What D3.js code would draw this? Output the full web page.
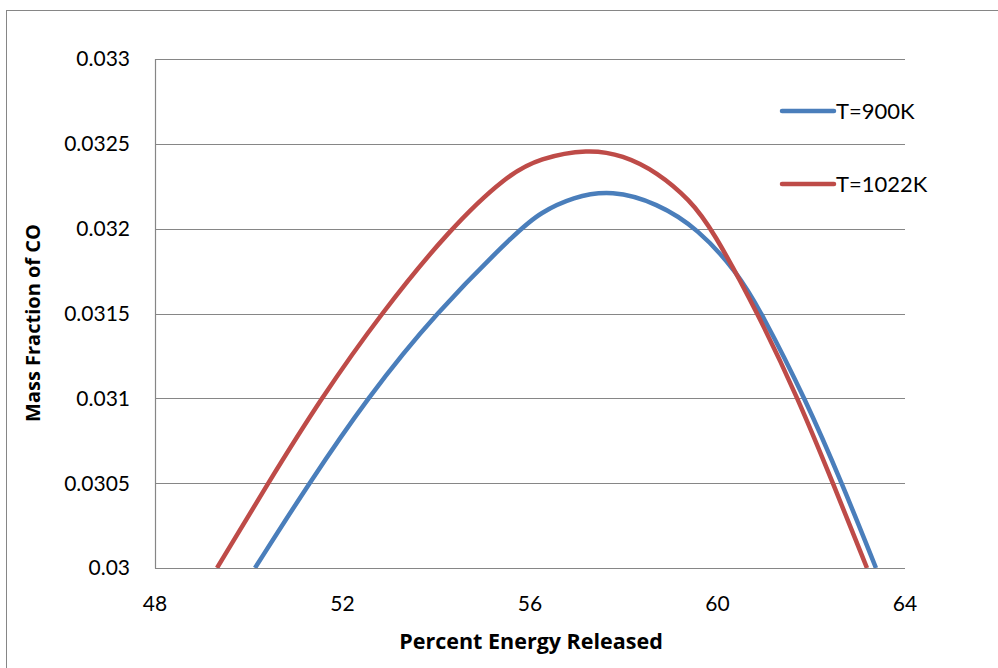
<!DOCTYPE html>
<html>
<head>
<meta charset="utf-8">
<script src="https://cdn.jsdelivr.net/npm/d3@7"></script>
<style>
  html, body { margin: 0; padding: 0; background: #fff; }
  svg { display: block; }
  text { font-family: Lato, "Open Sans", sans-serif; fill: #000; }
  .title { font-family: "Open Sans", Lato, sans-serif; font-weight: bold; }
</style>
</head>
<body>
<svg id="chart" width="998" height="668"></svg>
<script>
// ---- data ----
const xTicks = [48, 52, 56, 60, 64];
const yTicks = [0.03, 0.0305, 0.031, 0.0315, 0.032, 0.0325, 0.033];
const yTickLabels = ["0.03", "0.0305", "0.031", "0.0315", "0.032", "0.0325", "0.033"];
const seriesNames = ["T=900K", "T=1022K"];
const seriesColors = ["#4a7ebb", "#be4b48"];

const blueX = [50.133, 51.285, 52.523, 53.973, 55.787, 56.213, 56.917, 57.749, 58.709, 59.584, 60.416, 60.949, 61.867, 62.656, 63.381];
const blueY = [0.030000, 0.030500, 0.031000, 0.031500, 0.032000, 0.032092, 0.032187, 0.032228, 0.032151, 0.032000, 0.031745, 0.031500, 0.031000, 0.030500, 0.030000];

const redX = [49.323, 50.411, 51.541, 52.821, 54.293, 55.509, 56.213, 57.237, 57.984, 58.709, 59.413, 59.883, 60.864, 61.717, 62.464, 63.189];
const redY = [0.030000, 0.030500, 0.031000, 0.031500, 0.032000, 0.032316, 0.032416, 0.032470, 0.032434, 0.032334, 0.032169, 0.032000, 0.031500, 0.031000, 0.030500, 0.030000];

// ---- layout ----
const svg = d3.select("#chart");
const plot = { left: 155, right: 905, top: 59, bottom: 568 };

const x = d3.scaleLinear().domain([48, 64]).range([plot.left, plot.right]);
const y = d3.scaleLinear().domain([0.03, 0.033]).range([plot.bottom, plot.top]);

// outer chart border
svg.append("rect")
  .attr("x", 6.5).attr("y", 10.5)
  .attr("width", 1100).attr("height", 800)
  .attr("fill", "none").attr("stroke", "#868686").attr("stroke-width", 1);

// horizontal gridlines
svg.append("g").selectAll("line").data(yTicks).join("line")
  .attr("x1", plot.left).attr("x2", plot.right)
  .attr("y1", d => Math.round(y(d)) + 0.5).attr("y2", d => Math.round(y(d)) + 0.5)
  .attr("stroke", "#868686").attr("stroke-width", 1.2);

// y axis line
svg.append("line")
  .attr("x1", plot.left + 0.5).attr("x2", plot.left + 0.5)
  .attr("y1", plot.top).attr("y2", plot.bottom + 0.5)
  .attr("stroke", "#868686").attr("stroke-width", 1.2);

// y tick labels
svg.append("g").selectAll("text").data(yTicks).join("text")
  .attr("x", 130).attr("y", d => y(d))
  .attr("dy", "0.35em")
  .attr("text-anchor", "end")
  .style("font-size", "21px")
  .text((d, i) => yTickLabels[i]);

// x tick labels
svg.append("g").selectAll("text").data(xTicks).join("text")
  .attr("x", d => x(d)).attr("y", 604)
  .attr("dy", "0.35em")
  .attr("text-anchor", "middle")
  .style("font-size", "21px")
  .text(d => d);

// axis titles
svg.append("text").attr("class", "title")
  .attr("x", 531).attr("y", 641)
  .attr("dy", "0.35em")
  .attr("text-anchor", "middle")
  .style("font-size", "21.5px")
  .text("Percent Energy Released");

svg.append("text").attr("class", "title")
  .attr("transform", "translate(33,323) rotate(-90)")
  .attr("dy", "0.35em")
  .attr("text-anchor", "middle")
  .style("font-size", "20px")
  .text("Mass Fraction of CO");

// clip
svg.append("clipPath").attr("id", "clip")
  .append("rect").attr("x", plot.left).attr("y", plot.top - 10)
  .attr("width", plot.right - plot.left).attr("height", plot.bottom - plot.top + 10);

const line = d3.line()
  .x(d => x(d[0])).y(d => y(d[1]))
  .curve(d3.curveBasis);

const series = [
  blueX.map((v, i) => [v, blueY[i]]),
  redX.map((v, i) => [v, redY[i]])
];

svg.append("g").attr("clip-path", "url(#clip)")
  .selectAll("path").data(series).join("path")
  .attr("d", line)
  .attr("fill", "none")
  .attr("stroke", (d, i) => seriesColors[i])
  .attr("stroke-width", 4.5)
  .attr("stroke-linejoin", "round");

// legend
const legendY = [111, 184];
const lg = svg.append("g");
seriesNames.forEach((name, i) => {
  lg.append("line")
    .attr("x1", 782).attr("x2", 834)
    .attr("y1", legendY[i]).attr("y2", legendY[i])
    .attr("stroke", seriesColors[i]).attr("stroke-width", 4.5)
    .attr("stroke-linecap", "round");
  lg.append("text")
    .attr("x", 836).attr("y", legendY[i])
    .attr("dy", "0.35em")
    .style("font-size", "22px")
    .text(name);
});
</script>
</body>
</html>
